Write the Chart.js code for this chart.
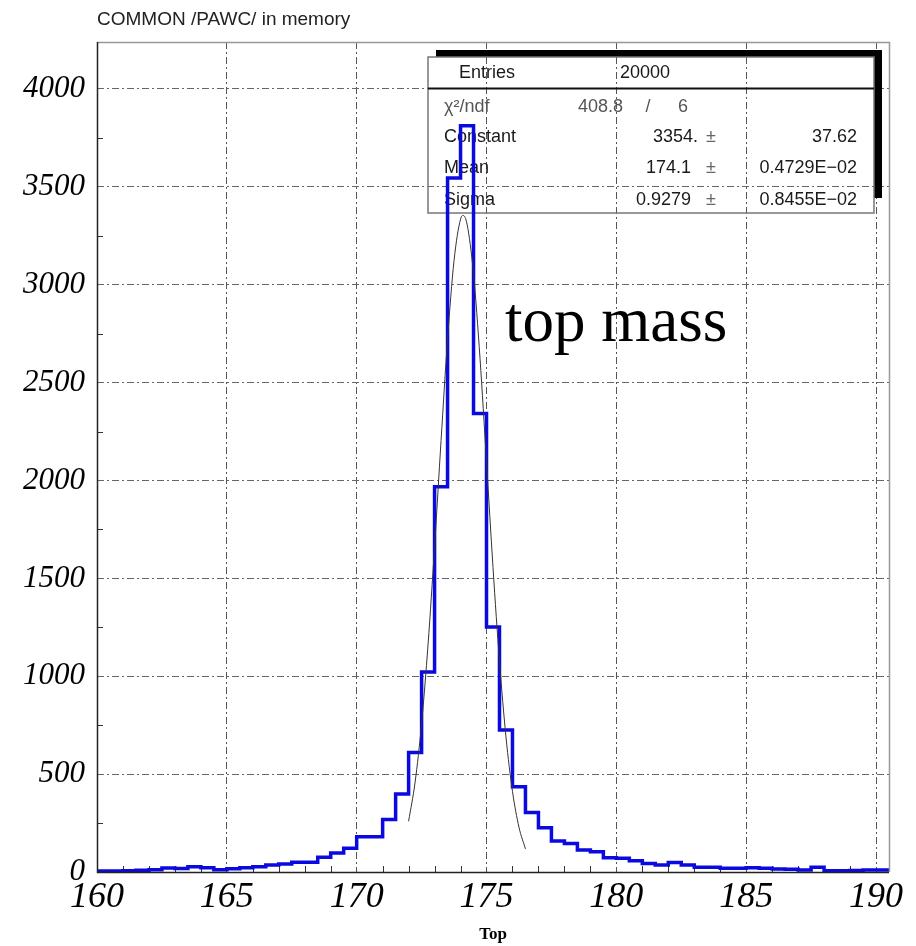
<!DOCTYPE html>
<html>
<head>
<meta charset="utf-8">
<script src="https://cdn.jsdelivr.net/npm/chart.js@4"></script>
<style>
html,body{margin:0;padding:0;background:#fff;}
#wrap{width:916px;height:946px;}
</style>
</head>
<body>
<div id="wrap"><canvas id="c" width="916" height="946"></canvas></div>
<script>
// ---- data ----
const binStart = 160;
const binWidth = 0.5;
const counts = [
  5, 5, 7, 9, 12, 20, 18, 27, 22, 12,
  16, 22, 27, 36, 41, 50, 50, 75, 97, 121,
  180, 180, 268, 398, 610, 1022, 1968, 3545, 3812, 2342,
  1252, 725, 435, 304, 226, 158, 146, 112, 104, 73,
  70, 58, 44, 36, 49, 36, 24, 24, 19, 19,
  22, 19, 15, 14, 10, 24, 7, 7, 8, 10,
  10
];
const fitX = [172, 172.25, 172.5, 172.75, 173, 173.25, 173.5, 173.75, 174, 174.1,
              174.25, 174.5, 174.75, 175, 175.25, 175.5, 175.75, 176, 176.25, 176.5];
const fitY = [259, 459, 758, 1165, 1661, 2205, 2721, 3124, 3335, 3354,
              3310, 3056, 2624, 2095, 1556, 1075, 690, 412, 229, 118];
const xTicks = [160, 165, 170, 175, 180, 185, 190];
const yTicks = [0, 500, 1000, 1500, 2000, 2500, 3000, 3500, 4000];
const xMinorTicks = [161,162,163,164,166,167,168,169,171,172,173,174,176,177,178,179,181,182,183,184,186,187,188,189];
const yMinorTicks = [250, 750, 1250, 1750, 2250, 2750, 3250, 3750];
const titleText = 'COMMON /PAWC/ in memory';
const xAxisTitle = 'Top';
const annotationText = 'top mass';
const statEntries = ['Entries', '20000'];
const statChi = ['\u03C7\u00B2/ndf', '408.8', '/', '6'];
const statParams = [
  ['Constant', '3354.', '37.62'],
  ['Mean', '174.1', '0.4729E\u221202'],
  ['Sigma', '0.9279', '0.8455E\u221202']
];

// ---- build datasets ----
const histPoints = counts.map((v, i) => ({x: binStart + i * binWidth, y: v}));
histPoints.push({x: binStart + counts.length * binWidth, y: counts[counts.length - 1]});
const fitPoints = fitX.map((x, i) => ({x: x, y: fitY[i]}));

const decor = {
  id: 'decor',
  beforeDatasetsDraw(chart) {
    const ctx = chart.ctx;
    const a = chart.chartArea;
    const xs = chart.scales.x, ys = chart.scales.y;
    ctx.save();
    // minor ticks
    ctx.strokeStyle = '#333';
    ctx.lineWidth = 1;
    ctx.setLineDash([]);
    ctx.beginPath();
    xMinorTicks.forEach(v => {
      const px = Math.round(xs.getPixelForValue(v)) + 0.5;
      ctx.moveTo(px, a.bottom); ctx.lineTo(px, a.bottom - 6);
    });
    yMinorTicks.forEach(v => {
      const py = Math.round(ys.getPixelForValue(v)) + 0.5;
      ctx.moveTo(a.left, py); ctx.lineTo(a.left + 6, py);
    });
    ctx.stroke();

    // stats box
    const bx = 428, by = 57, bw = 446, bh = 156;
    ctx.fillStyle = '#000';
    ctx.fillRect(bx + 8, by - 7, bw, 7);
    ctx.fillRect(bx + bw, by - 7, 8, bh - 8);
    ctx.strokeStyle = '#777';
    ctx.lineWidth = 1.5;
    ctx.strokeRect(bx, by, bw, bh);
    ctx.strokeStyle = '#111';
    ctx.lineWidth = 2;
    ctx.beginPath();
    ctx.moveTo(bx, 88.5); ctx.lineTo(bx + bw, 88.5);
    ctx.stroke();

    ctx.font = '18px "Liberation Sans", Arial, sans-serif';
    ctx.textBaseline = 'middle';
    ctx.fillStyle = '#1a1a1a';
    ctx.textAlign = 'left';
    ctx.fillText(statEntries[0], 459, 73);
    ctx.fillText(statEntries[1], 620, 73);
    ctx.fillStyle = '#555';
    ctx.fillText(statChi[0], 444, 107);
    ctx.textAlign = 'right';
    ctx.fillText(statChi[1], 623, 107);
    ctx.textAlign = 'center';
    ctx.fillText(statChi[2], 648, 107);
    ctx.fillText(statChi[3], 683, 107);
    ctx.fillStyle = '#1a1a1a';
    const rowY = [137, 168, 200];
    statParams.forEach((r, i) => {
      ctx.textAlign = 'left';
      ctx.fillText(r[0], 444, rowY[i]);
      ctx.textAlign = 'right';
      ctx.fillText(r[1], i === 0 ? 698 : 691, rowY[i]);
      ctx.fillStyle = '#666';
      ctx.textAlign = 'center';
      ctx.fillText('\u00B1', 711, rowY[i]);
      ctx.fillStyle = '#1a1a1a';
      ctx.textAlign = 'right';
      ctx.fillText(r[2], 857, rowY[i]);
    });

    // annotation
    ctx.textAlign = 'left';
    ctx.textBaseline = 'alphabetic';
    ctx.font = '63px "Liberation Serif", "Times New Roman", serif';
    ctx.fillStyle = '#000';
    ctx.fillText(annotationText, 505, 341);
    ctx.restore();
  },
  afterDraw(chart) {
    const ctx = chart.ctx;
    const a = chart.chartArea;
    ctx.save();
    ctx.setLineDash([]);
    // frame
    ctx.strokeStyle = '#999';
    ctx.lineWidth = 1.5;
    ctx.beginPath();
    ctx.moveTo(a.left, a.top + 0.5); ctx.lineTo(a.right + 0.5, a.top + 0.5); ctx.lineTo(a.right + 0.5, a.bottom);
    ctx.stroke();
    ctx.strokeStyle = '#222';
    ctx.lineWidth = 1.5;
    ctx.beginPath();
    ctx.moveTo(a.left + 0.5, a.top); ctx.lineTo(a.left + 0.5, a.bottom + 0.5); ctx.lineTo(a.right, a.bottom + 0.5);
    ctx.stroke();
    // title
    ctx.font = '19px "Liberation Sans", Arial, sans-serif';
    ctx.fillStyle = '#222';
    ctx.textAlign = 'left';
    ctx.textBaseline = 'middle';
    ctx.fillText(titleText, 97, 20);
    ctx.restore();
  }
};

new Chart(document.getElementById('c'), {
  type: 'line',
  data: {
    datasets: [
      {
        label: 'fit',
        data: fitPoints,
        borderColor: '#333',
        borderWidth: 1,
        pointRadius: 0,
        fill: false,
        cubicInterpolationMode: 'monotone'
      },
      {
        label: 'Top',
        data: histPoints,
        borderColor: '#0a0ae0',
        borderWidth: 3.5,
        pointRadius: 0,
        fill: false,
        stepped: 'before'
      }
    ]
  },
  options: {
    responsive: false,
    devicePixelRatio: 1,
    animation: false,
    layout: { padding: { top: 42, right: 27, left: 0, bottom: 0 } },
    plugins: { legend: { display: false }, tooltip: { enabled: false }, title: { display: false } },
    scales: {
      x: {
        type: 'linear',
        min: 160,
        max: 190.5,
        afterBuildTicks(s) { s.ticks = xTicks.map(v => ({value: v})); },
        afterFit(s) { s.height = 74; },
        grid: { color: '#555', lineWidth: 1, drawTicks: false },
        border: { display: false, dash: [7, 3, 2, 3] },
        ticks: {
          autoSkip: false,
          maxRotation: 0,
          padding: 4,
          color: '#000',
          font: { family: '"Liberation Serif", "Times New Roman", serif', style: 'italic', size: 36 },
          callback: v => String(v)
        },
        title: {
          display: true,
          text: xAxisTitle,
          color: '#000',
          font: { family: '"Liberation Serif", "Times New Roman", serif', weight: 'bold', size: 17 },
          padding: { top: 0, bottom: 1 }
        }
      },
      y: {
        type: 'linear',
        min: 0,
        max: 4240,
        afterBuildTicks(s) { s.ticks = yTicks.map(v => ({value: v})); },
        afterFit(s) { s.width = 97; },
        grid: { color: '#666', lineWidth: 1, drawTicks: false },
        border: { display: false, dash: [7, 3, 2, 3] },
        ticks: {
          autoSkip: false,
          padding: 12,
          color: '#000',
          font: { family: '"Liberation Serif", "Times New Roman", serif', style: 'italic', size: 31 },
          callback: v => String(v)
        }
      }
    }
  },
  plugins: [decor]
});
</script>
</body>
</html>
